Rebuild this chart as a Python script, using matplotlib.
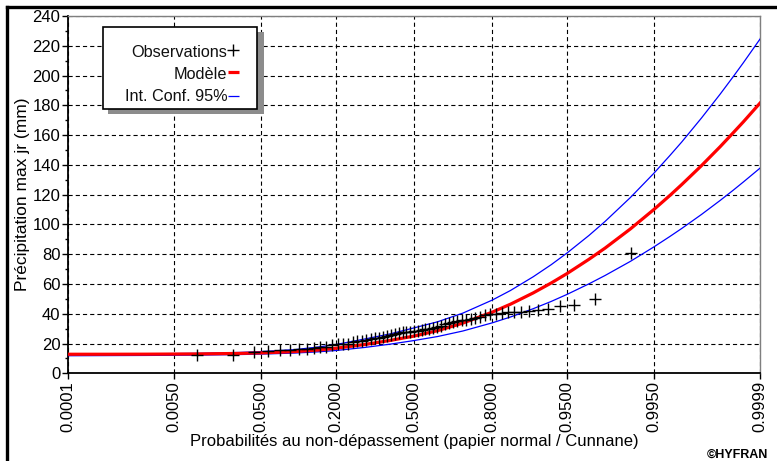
import math
import numpy as np
import matplotlib
matplotlib.use("Agg")
import matplotlib.pyplot as plt
from matplotlib.lines import Line2D
from matplotlib.patches import Rectangle

plt.rcParams['font.family'] = ['Liberation Sans', 'DejaVu Sans']
plt.rcParams['lines.scale_dashes'] = False

# Observations (sorted), plotted at Cunnane positions
obs = [12, 12, 14.5, 15, 15.5, 15.5, 16, 16.5, 17, 17.5,
       18, 19, 19.5, 20, 20, 21, 21.5, 22, 22.5, 23,
       23.5, 24, 24.5, 25, 26, 26.5, 27, 27.5, 28, 28,
       28.5, 28.5, 29, 29.5, 30, 30.5, 31, 32, 33, 34,
       34.5, 35, 35.5, 36, 36.5, 37, 38, 39, 39.5, 40,
       40.5, 41, 41.5, 41.5, 42, 42.5, 43.5, 45, 46, 50,
       81]

# Fitted model and 95% confidence interval
curve_prob = [0.0001, 0.0005, 0.002, 0.01, 0.03, 0.05, 0.1, 0.15, 0.2, 0.3,
              0.4, 0.5, 0.6, 0.7, 0.8, 0.85, 0.9, 0.93, 0.95, 0.97,
              0.98, 0.99, 0.995, 0.997, 0.998, 0.999, 0.9995, 0.9997, 0.9998, 0.9999]
model = [12.8, 12.8, 12.85, 13.0, 13.35, 13.7, 14.6, 15.6, 16.8, 19.4,
         22.1, 25, 28.65, 33.7, 41.1, 46.4, 54.0, 60.7, 67.0, 76.6,
         84.1, 97.0, 109.9, 119.3, 126.8, 139.5, 152.2, 161.6, 168.9, 181.5]
ci_upper = [13.0, 13.0, 13.1, 13.4, 14.0, 14.6, 15.9, 17.6, 19.3, 23.1,
            26.5, 30.5, 34.6, 40.4, 49.2, 55.6, 64.85, 73.0, 80.8, 92.6,
            102.0, 118.1, 134.2, 146.1, 155.4, 171.5, 187.5, 199.3, 208.6, 224.5]
ci_lower = [11.8, 11.9, 12.0, 12.2, 12.6, 12.9, 13.6, 14.4, 15.3, 17.4,
            19.6, 22, 24.7, 28.4, 33.9, 37.8, 43.4, 48.3, 53.0, 60.1,
            65.7, 75.2, 84.8, 91.8, 97.3, 106.7, 116.1, 123.0, 128.5, 137.8]

tick_prob = [0.0001, 0.005, 0.05, 0.2, 0.5, 0.8, 0.95, 0.995, 0.9999]
tick_labels = ['0.0001', '0.0050', '0.0500', '0.2000', '0.5000',
               '0.8000', '0.9500', '0.9950', '0.9999']

legend_labels = ['Observations', 'Modèle', 'Int. Conf. 95%']

_erf = np.frompyfunc(math.erf, 1, 1)


def norm_cdf(z):
    z = np.asarray(z, dtype=float)
    return 0.5 * (1.0 + _erf(z / math.sqrt(2.0)).astype(float))


def probit(p):
    p = np.clip(np.asarray(p, dtype=float), 1e-12, 1 - 1e-12)
    lo = np.full(p.shape, -8.0)
    hi = np.full(p.shape, 8.0)
    for _ in range(55):
        mid = 0.5 * (lo + hi)
        below = norm_cdf(mid) < p
        lo = np.where(below, mid, lo)
        hi = np.where(below, hi, mid)
    return 0.5 * (lo + hi)


W, H = 777, 461


def fx(px):
    return px / W


def fy(py):
    return 1 - py / H


n = len(obs)
ranks = np.arange(1, n + 1)
cunnane = (ranks - 0.4) / (n + 0.2)

fig = plt.figure(figsize=(7.77, 4.61), dpi=100)
ax = fig.add_axes([fx(68), fy(373.3), 692 / W, 357.3 / H])
ax.set_xscale('function', functions=(probit, norm_cdf))

ax.plot(curve_prob, ci_upper, color='#0000ff', lw=0.9, zorder=3)
ax.plot(curve_prob, ci_lower, color='#0000ff', lw=0.9, zorder=3)
ax.plot(curve_prob, model, color='#ff0000', lw=2.3, zorder=4)
ax.plot(cunnane, obs, '+', color='black', ms=9, mew=1.0, zorder=5)

ax.set_xlim(0.0001, 0.9999)
ax.set_ylim(0, 240)
ax.set_xticks(tick_prob, labels=tick_labels, rotation=90)
ax.xaxis.set_minor_locator(matplotlib.ticker.NullLocator())
ax.set_yticks(np.arange(0, 241, 20))
ax.set_yticks(np.arange(0, 241, 10), minor=True)

ax.grid(True, which='major', color='black', lw=0.8, linestyle=(0, (3, 2.2)))
ax.tick_params(axis='both', which='major', labelsize=12, length=4, width=1, pad=1.5)
ax.tick_params(axis='y', which='minor', length=2.5, width=1)

for side in ('left', 'bottom'):
    ax.spines[side].set_color('black')
    ax.spines[side].set_linewidth(1.3)
for side in ('top', 'right'):
    ax.spines[side].set_color('#7f7f7f')
    ax.spines[side].set_linewidth(1.0)

ax.set_xlabel('Probabilités au non-dépassement (papier normal / Cunnane)', fontsize=12, labelpad=1)
ax.set_ylabel('Précipitation max jr (mm)', fontsize=12.5, labelpad=2)

# legend box drawn HYFRAN style: text right-aligned, symbol after the text
tf = fig.transFigure
fig.add_artist(Rectangle((fx(108), fy(113.5)), (263.5 - 108) / W, (113.5 - 32) / H,
                         transform=tf, facecolor='#8c8c8c', edgecolor='none', zorder=8))
fig.add_artist(Rectangle((fx(102.7), fy(109)), (257.3 - 102.7) / W, (109 - 26.7) / H,
                         transform=tf, facecolor='white', edgecolor='black', lw=1.2, zorder=9))
for label, base in zip(legend_labels, [56.7, 79.0, 100.7]):
    fig.text(fx(227.5), fy(base), label, ha='right', va='baseline', fontsize=11.7,
             color='#101010', zorder=10)
fig.add_artist(Line2D([fx(233.3)], [fy(50)], transform=tf, linestyle='none', marker='+',
                      color='black', ms=9, mew=1.0, zorder=10))
fig.add_artist(Line2D([fx(228), fx(239)], [fy(72), fy(72)], transform=tf,
                      color='#ff0000', lw=2.3, solid_capstyle='butt', zorder=10))
fig.add_artist(Line2D([fx(228), fx(239)], [fy(96), fy(96)], transform=tf,
                      color='#0000ff', lw=0.9, solid_capstyle='butt', zorder=10))

# outer frame of the HYFRAN window
fig.add_artist(Line2D([fx(7), fx(7)], [0, fy(7)], transform=tf, color='black', lw=2.4))
fig.add_artist(Line2D([fx(7), 1], [fy(7), fy(7)], transform=tf, color='black', lw=2.4))

fig.text(fx(768), fy(454.5), '©HYFRAN', ha='right', va='center',
         fontsize=9, fontweight='bold')

fig.savefig('out.png', dpi=100)
